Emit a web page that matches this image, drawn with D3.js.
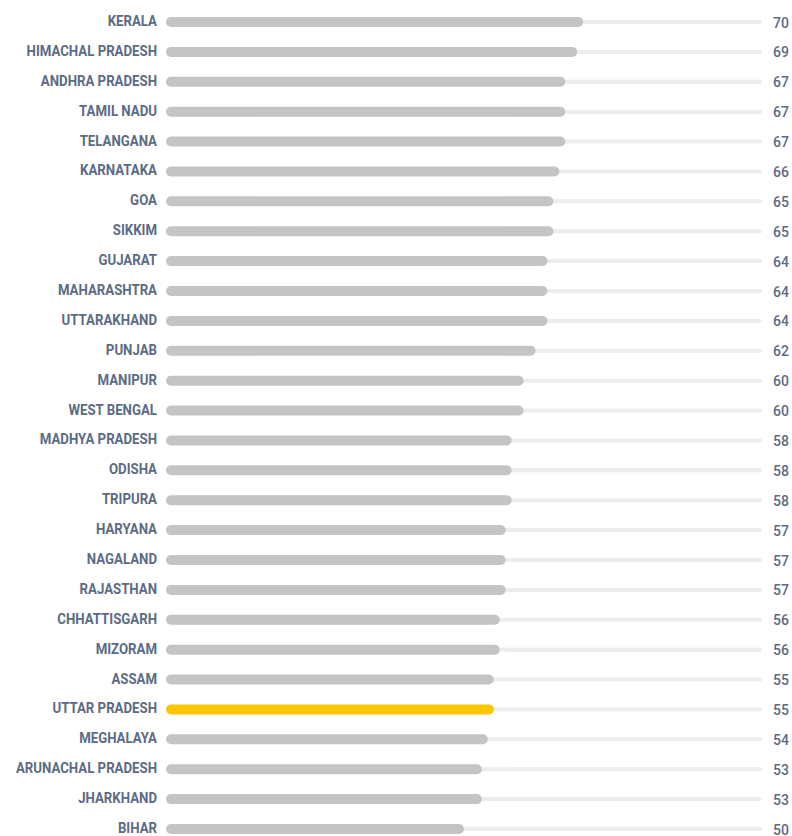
<!DOCTYPE html>
<html>
<head>
<meta charset="utf-8">
<script src="https://cdn.jsdelivr.net/npm/d3@7/dist/d3.min.js"></script>
<style>
  html, body { margin: 0; padding: 0; background: #ffffff; }
  svg { display: block; }
  .state { font-family: "Liberation Sans Narrow", "Roboto", "Liberation Sans", sans-serif; font-weight: bold; font-size: 14px; fill: #5b6b85; }
  .score { font-family: "Roboto", "Liberation Sans", sans-serif; font-weight: 500; font-size: 14px; fill: #5b6b85; }
</style>
</head>
<body>
<svg id="chart" width="792" height="836"></svg>
<script>
const states = [
  "KERALA", "HIMACHAL PRADESH", "ANDHRA PRADESH", "TAMIL NADU", "TELANGANA",
  "KARNATAKA", "GOA", "SIKKIM", "GUJARAT", "MAHARASHTRA", "UTTARAKHAND",
  "PUNJAB", "MANIPUR", "WEST BENGAL", "MADHYA PRADESH", "ODISHA", "TRIPURA",
  "HARYANA", "NAGALAND", "RAJASTHAN", "CHHATTISGARH", "MIZORAM", "ASSAM",
  "UTTAR PRADESH", "MEGHALAYA", "ARUNACHAL PRADESH", "JHARKHAND", "BIHAR"
];
const scores = [
  70, 69, 67, 67, 67,
  66, 65, 65, 64, 64, 64,
  62, 60, 60, 58, 58, 58,
  57, 57, 57, 56, 56, 55,
  55, 54, 53, 53, 50
];
const highlighted = ["UTTAR PRADESH"];
const scoreMax = 100;

const data = states.map((s, i) => ({ state: s, score: scores[i] }));

const svg = d3.select("#chart");

const x = d3.scaleLinear().domain([0, scoreMax]).range([166, 762]);
const y = d3.scalePoint().domain(states).range([22, 829]);

const barH = 10, trackH = 4;

const row = svg.selectAll("g.row")
  .data(data)
  .join("g")
  .attr("class", "row")
  .attr("transform", d => `translate(0,${y(d.state)})`);

// full-scale background track
row.append("rect")
  .attr("x", x(0))
  .attr("y", -trackH / 2)
  .attr("width", x(scoreMax) - x(0))
  .attr("height", trackH)
  .attr("rx", trackH / 2)
  .attr("fill", "#ececec");

// score bar
row.append("rect")
  .attr("x", x(0))
  .attr("y", -barH / 2)
  .attr("width", d => x(d.score) - x(0))
  .attr("height", barH)
  .attr("rx", barH / 2)
  .attr("fill", d => highlighted.includes(d.state) ? "#fbc500" : "#c4c4c4");

// state name, slightly condensed
row.append("text")
  .attr("class", "state")
  .attr("transform", "translate(157,4) scale(0.945,1)")
  .attr("text-anchor", "end")
  .text(d => d.state);

// score value
row.append("text")
  .attr("class", "score")
  .attr("x", 773)
  .attr("y", 5.5)
  .text(d => d.score);
</script>
</body>
</html>
